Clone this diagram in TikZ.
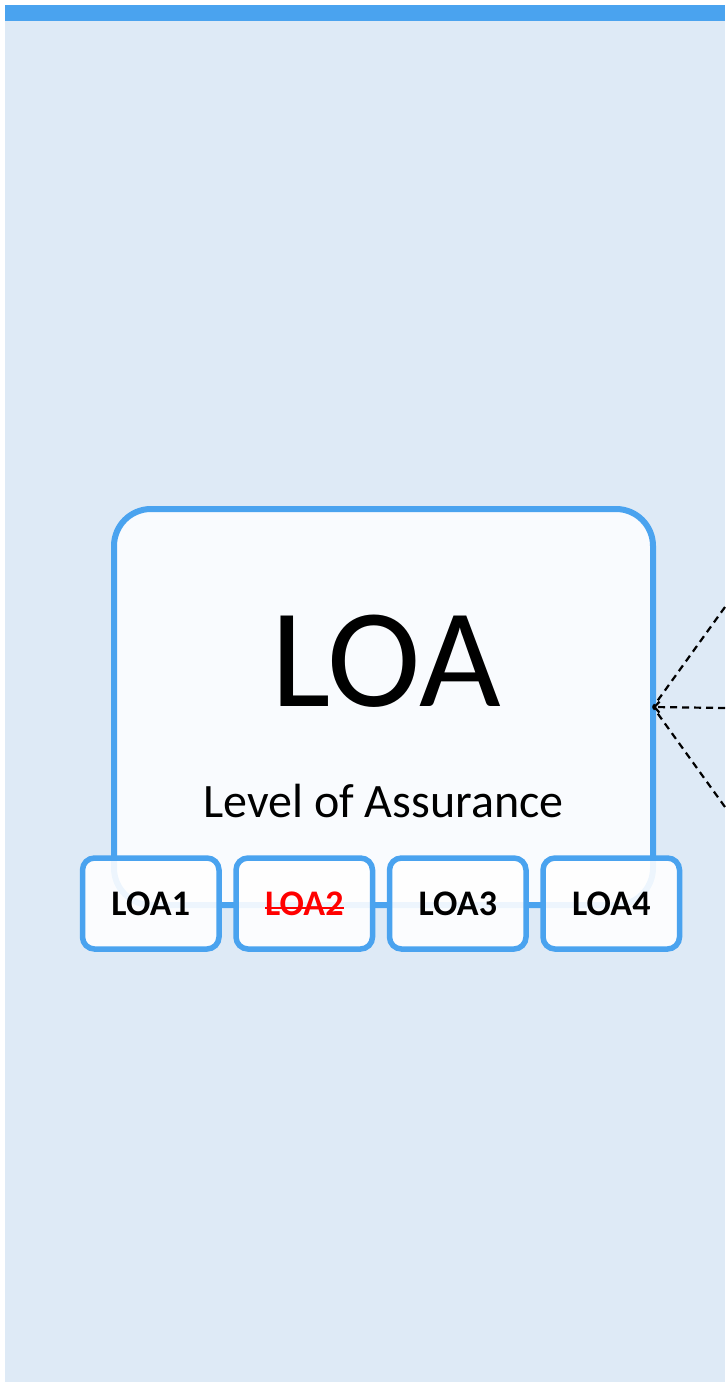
\documentclass[tikz,border=0pt]{standalone}
\usepackage{fontspec}
\setmainfont{Carlito}
\usepackage{xcolor}
\definecolor{PanelBlue}{HTML}{DEEAF6}
\definecolor{EdgeBlue}{HTML}{4AA3EF}
\definecolor{CardWhite}{HTML}{F9FBFE}
\usetikzlibrary{arrows.meta,positioning}
% struck-out label text
\newsavebox{\strikebox}
\newcommand{\strikeout}[1]{\sbox{\strikebox}{#1}\rlap{\usebox{\strikebox}}\rule[6pt]{\wd\strikebox}{2.5pt}}

\begin{document}
\begin{tikzpicture}[x=1pt,y=-1pt,node distance=11.5pt,>={Straight Barb[length=5pt,width=11pt]},
mainbox/.style={draw=EdgeBlue,line width=6pt,rounded corners=37pt,fill=CardWhite,minimum width=539pt,minimum height=396pt},
levelbox/.style={draw=EdgeBlue,line width=5.5pt,rounded corners=12pt,fill=white,fill opacity=0.9,text opacity=1,minimum width=136.5pt,minimum height=91pt,font=\fontsize{36}{40}\selectfont\bfseries},
link/.style={dashed,dash pattern=on 7pt off 5pt,line width=2.2pt}]
\useasboundingbox (0,0) rectangle (725,1383);
% background panel and header strip
\fill[PanelBlue] (5,5) rectangle (725,1382);
\fill[EdgeBlue] (5,5) rectangle (725,21);
% main card
\node[mainbox] (loa) at (383.5,707) {};
\node[anchor=base,font=\fontsize{141}{141}\selectfont] (title) at (386,706) {LOA};
\node[anchor=base,font=\fontsize{48}{52}\selectfont] (subtitle) at (383.5,817) {Level of Assurance};
% levels along the bottom edge
\node[levelbox] (loa1) at (150.75,903.5) {LOA1};
\node[levelbox,right=of loa1,text=red] (loa2) {\strikeout{LOA2}};
\node[levelbox,right=of loa2] (loa3) {LOA3};
\node[levelbox,right=of loa3] (loa4) {LOA4};
% incoming links from the right
\coordinate (inup) at (725,607);
\coordinate (inmid) at (725,708);
\coordinate (indown) at (725,807);
\coordinate (tip) at ([xshift=-3pt]loa.east);
\draw[link] (inup) -- (tip);
\draw[link] (indown) -- (tip);
\draw[link,->] (inmid) -- (tip);
\end{tikzpicture}
\end{document}
